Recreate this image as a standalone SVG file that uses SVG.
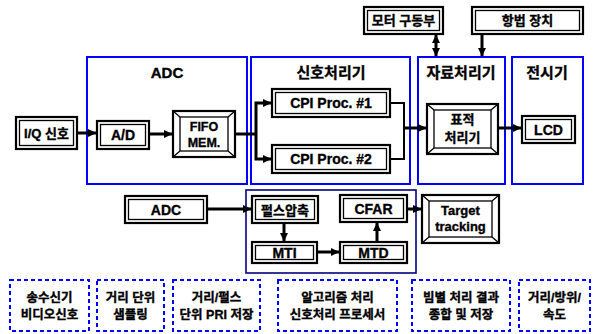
<svg xmlns="http://www.w3.org/2000/svg" width="593" height="334" viewBox="0 0 593 334">
<style>
text{font-family:"Liberation Sans","Noto Sans CJK KR",Arial,sans-serif;font-weight:bold;fill:#000;stroke:#000;stroke-width:0.35;text-anchor:middle}
.h{font-size:15px}
.t{font-size:14px}
.k{font-size:13px}
.s{font-size:12.5px}
.grp{fill:none;stroke:#0000ff;stroke-width:2}
.nav{fill:none;stroke:#000080;stroke-width:1.6}
.dash{fill:none;stroke:#0000ff;stroke-width:2;stroke-dasharray:4 3}
.o{fill:#fff;stroke:#000;stroke-width:2.2}
.i{fill:none;stroke:#000;stroke-width:1.3}
.c{fill:none;stroke:#000;stroke-width:3}
.c2{fill:none;stroke:#000;stroke-width:2}
</style>
<defs>
<marker id="ah" markerUnits="userSpaceOnUse" markerWidth="9" markerHeight="9" refX="8" refY="4.5" orient="auto-start-reverse">
<path d="M0,0.5 L8.5,4.5 L0,8.5 z" fill="#000"/>
</marker>
</defs>
<rect width="593" height="334" fill="#fff"/>

<g id="groups">
<rect class="grp" x="87" y="57" width="160" height="127"/>
<text class="h" x="167" y="78">ADC</text>
<rect class="grp" x="251" y="57" width="159" height="127"/>
<text class="h" x="331" y="78">신호처리기</text>
<rect class="grp" x="418" y="57" width="87" height="127"/>
<text class="h" x="461" y="78">자료처리기</text>
<rect class="grp" x="512" y="57" width="71" height="127"/>
<text class="h" x="547" y="78">전시기</text>
<rect class="nav" x="246" y="190" width="170" height="83"/>
</g>

<g id="connectors">
<line class="c" x1="77" y1="133" x2="96" y2="133" marker-end="url(#ah)"/>
<line class="c" x1="149" y1="134" x2="172" y2="134" marker-end="url(#ah)"/>
<polyline class="c" points="235,134 256,134"/>
<polyline class="c" points="271,103 256,103 256,159 271,159" marker-start="url(#ah)" marker-end="url(#ah)"/>
<polyline class="c2" points="390,103 404,103 404,159 390,159"/>
<line class="c" x1="404" y1="128" x2="426" y2="128" marker-end="url(#ah)"/>
<line class="c" x1="498" y1="128" x2="521" y2="128" marker-end="url(#ah)"/>
<line class="c" x1="436" y1="35" x2="436" y2="56" marker-start="url(#ah)" marker-end="url(#ah)"/>
<line class="c" x1="482" y1="34" x2="482" y2="56" marker-end="url(#ah)"/>
<line class="c" x1="207" y1="209" x2="251" y2="209" marker-end="url(#ah)"/>
<line class="c" x1="284" y1="223" x2="284" y2="241" marker-end="url(#ah)"/>
<line class="c" x1="317" y1="252" x2="339" y2="252" marker-end="url(#ah)"/>
<line class="c" x1="377" y1="242" x2="377" y2="223" marker-end="url(#ah)"/>
<line class="c" x1="407" y1="209" x2="421" y2="209" marker-end="url(#ah)"/>
</g>

<g id="iq"><rect class="o" x="16" y="117" width="61" height="32"/><rect class="i" x="19.5" y="120.5" width="54" height="25"/><text class="k" x="46.5" y="138">I/Q 신호</text></g>
<g id="ad"><rect class="o" x="97" y="121" width="52" height="28"/><rect class="i" x="100.5" y="124.5" width="45" height="21"/><text class="t" x="123" y="140">A/D</text></g>
<g id="fifo"><rect class="o" x="173" y="111" width="62" height="46"/><rect class="i" x="180" y="117" width="48" height="34"/><path class="i" d="M173,111 L180,117 M235,111 L228,117 M173,157 L180,151 M235,157 L228,151"/><text class="s" x="204" y="131">FIFO</text><text class="s" x="204" y="147">MEM.</text></g>
<g id="cpi1"><rect class="o" x="272" y="89" width="118" height="28"/><rect class="i" x="275.5" y="92.5" width="111" height="21"/><text class="t" x="331" y="108">CPI Proc. #1</text></g>
<g id="cpi2"><rect class="o" x="272" y="145" width="118" height="28"/><rect class="i" x="275.5" y="148.5" width="111" height="21"/><text class="t" x="331" y="164">CPI Proc. #2</text></g>
<g id="target-proc"><rect class="o" x="427" y="104" width="71" height="50"/><rect class="i" x="434" y="110" width="57" height="38"/><path class="i" d="M427,104 L434,110 M498,104 L491,110 M427,154 L434,148 M498,154 L491,148"/><text class="k" x="462.5" y="124">표적</text><text class="k" x="462.5" y="142">처리기</text></g>
<g id="lcd"><rect class="o" x="522" y="116" width="53" height="27"/><rect class="i" x="525.5" y="119.5" width="46" height="20"/><text class="t" x="548.5" y="134.5">LCD</text></g>
<g id="motor"><rect class="o" x="364" y="7" width="79" height="27"/><rect class="i" x="367.5" y="10.5" width="72" height="20"/><text class="k" x="403.5" y="25">모터 구동부</text></g>
<g id="nav"><rect class="o" x="472" y="7" width="111" height="27"/><rect class="i" x="475.5" y="10.5" width="104" height="20"/><text class="k" x="527.5" y="25">항법 장치</text></g>

<g id="adc2"><rect class="o" x="125" y="196" width="82" height="27"/><rect class="i" x="128.5" y="199.5" width="75" height="20"/><text class="t" x="166" y="214.5">ADC</text></g>
<g id="pulse"><rect class="o" x="252" y="196" width="66" height="27"/><rect class="i" x="255.5" y="199.5" width="59" height="20"/><text class="k" x="285" y="214.5">펄스압축</text></g>
<g id="mti"><rect class="o" x="252" y="242" width="65" height="21"/><rect class="i" x="255.5" y="245.5" width="58" height="14"/><text class="t" x="284.5" y="257.5">MTI</text></g>
<g id="cfar"><rect class="o" x="340" y="195" width="67" height="27"/><rect class="i" x="343.5" y="198.5" width="60" height="20"/><text class="t" x="373.5" y="213.5">CFAR</text></g>
<g id="mtd"><rect class="o" x="340" y="242" width="67" height="21"/><rect class="i" x="343.5" y="245.5" width="60" height="14"/><text class="t" x="373.5" y="257.5">MTD</text></g>
<g id="tracking"><rect class="o" x="422" y="195" width="77" height="48"/><rect class="i" x="429" y="201" width="63" height="36"/><path class="i" d="M422,195 L429,201 M499,195 L492,201 M422,243 L429,237 M499,243 L492,237"/><text class="k" x="460.5" y="215">Target</text><text class="k" x="460.5" y="231">tracking</text></g>

<g id="note1"><rect class="dash" x="10" y="280" width="79" height="51"/><text class="s" x="49.5" y="302">송수신기</text><text class="s" x="49.5" y="319">비디오신호</text></g>
<g id="note2"><rect class="dash" x="97" y="280" width="67" height="51"/><text class="s" x="130.5" y="302">거리 단위</text><text class="s" x="130.5" y="319">샘플링</text></g>
<g id="note3"><rect class="dash" x="173" y="280" width="87" height="51"/><text class="s" x="216.5" y="302">거리/펄스</text><text class="s" x="216.5" y="319">단위 PRI 저장</text></g>
<g id="note4"><rect class="dash" x="278" y="280" width="119" height="51"/><text class="s" x="337.5" y="302">알고리즘 처리</text><text class="s" x="337.5" y="319">신호처리 프로세서</text></g>
<g id="note5"><rect class="dash" x="412" y="280" width="98" height="51"/><text class="s" x="461" y="302">빔별 처리 결과</text><text class="s" x="461" y="319">종합 및 저장</text></g>
<g id="note6"><rect class="dash" x="519" y="280" width="71" height="51"/><text class="s" x="554.5" y="302">거리/방위/</text><text class="s" x="554.5" y="319">속도</text></g>
</svg>
